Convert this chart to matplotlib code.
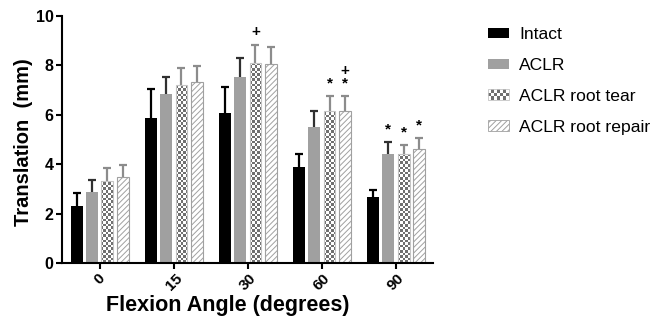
import numpy as np
import matplotlib
matplotlib.use("Agg")
import matplotlib.pyplot as plt
from matplotlib.patches import Rectangle, Patch
from matplotlib.legend_handler import HandlerBase

plt.rcParams['font.family'] = ['Liberation Sans', 'DejaVu Sans']
plt.rcParams['hatch.linewidth'] = 0.7

# Données (moyenne, écart-type)
angles = ['0', '15', '30', '60', '90']
series = ['Intact', 'ACLR', 'ACLR root tear', 'ACLR root repair']
intact_mean = [2.29, 5.86, 6.06, 3.88, 2.66]
intact_sd = [0.56, 1.19, 1.05, 0.51, 0.30]
aclr_mean = [2.87, 6.84, 7.54, 5.49, 4.41]
aclr_sd = [0.47, 0.70, 0.75, 0.67, 0.47]
tear_mean = [3.30, 7.21, 8.08, 6.14, 4.39]
tear_sd = [0.55, 0.69, 0.74, 0.60, 0.39]
repair_mean = [3.47, 7.32, 8.04, 6.16, 4.62]
repair_sd = [0.51, 0.64, 0.68, 0.58, 0.45]
# marques de significativité : (angle, série, symbole, rang)
marks = [(2, 2, '+', 0), (3, 2, '*', 0), (3, 3, '*', 0), (3, 3, '+', 1),
         (4, 1, '*', 0), (4, 2, '*', 0), (4, 3, '*', 0)]

means = [intact_mean, aclr_mean, tear_mean, repair_mean]
sds = [intact_sd, aclr_sd, tear_sd, repair_sd]

GRAY = '#a0a0a0'
CHECK = '#707070'
EDGE = '#c4c4c4'
err_colors = ['black', '#303030', '#8c8c8c', '#8c8c8c']

fig = plt.figure(figsize=(6.63, 3.29), dpi=100)
ax = fig.add_axes([0.0935, 0.2006, 0.5595, 0.7514])

x = np.arange(len(angles))
pitch = 0.207
width = 0.16
cell_x = width / 5
cell_y = 0.105

for k in range(4):
    xs = x + (k - 1.5) * pitch
    ax.errorbar(xs, means[k], yerr=sds[k], fmt='none', ecolor=err_colors[k],
                elinewidth=1.6, capsize=2.6, capthick=1.6, zorder=0.5)
    if k == 0:
        ax.bar(xs, means[k], width, color='black', zorder=1)
    elif k == 1:
        ax.bar(xs, means[k], width, color=GRAY, zorder=1)
    elif k == 2:
        bars = ax.bar(xs, means[k], width, facecolor='none', edgecolor=EDGE,
                      linewidth=0.8, zorder=1.2)
        for b in bars:
            nr = int(np.ceil(b.get_height() / cell_y)) + 1
            grid = (np.add.outer(np.arange(nr), np.arange(5)) % 2).astype(float)
            x0 = b.get_x()
            im = ax.imshow(grid, cmap=matplotlib.colors.ListedColormap(['white', CHECK]),
                           extent=(x0, x0 + 5 * cell_x, 0, nr * cell_y),
                           origin='lower', aspect='auto', interpolation='nearest',
                           zorder=1.1)
            im.set_clip_path(b)
    else:
        ax.bar(xs, means[k], width, facecolor='white', edgecolor=GRAY,
               hatch='//////', linewidth=0.8, zorder=1)

for g, s, sym, lvl in marks:
    xx = x[g] + (s - 1.5) * pitch
    yy = means[s][g] + sds[s][g]
    ax.annotate(sym, (xx, yy), xytext=(0, 4 + 9 * lvl), textcoords='offset points',
                ha='center', va='bottom', fontsize=11, fontweight='bold')

ax.set_xlim(-0.51, 4.5)
ax.set_ylim(0, 10)
ax.set_yticks([0, 2, 4, 6, 8, 10])
ax.set_xticks(x)
ax.set_xticklabels(angles, rotation=45, ha='center', fontsize=11, fontweight='bold')
for t in ax.get_yticklabels():
    t.set_fontsize(11.5)
    t.set_fontweight('bold')
ax.spines['top'].set_visible(False)
ax.spines['right'].set_visible(False)
ax.spines['left'].set_linewidth(1.5)
ax.spines['bottom'].set_linewidth(1.5)
ax.tick_params(width=1.5, length=4, pad=2)
ax.set_ylabel('Translation  (mm)', fontsize=14.5, fontweight='bold', va='center')
ax.yaxis.set_label_coords(-0.105, 0.49)
ax.set_xlabel('Flexion Angle (degrees)', fontsize=15.5, fontweight='bold', va='center')
ax.xaxis.set_label_coords(0.447, -0.17)


class CheckerHandler(HandlerBase):
    def create_artists(self, legend, orig_handle, xdescent, ydescent, width, height,
                       fontsize, trans):
        arts = []
        n, m = 7, 3
        cw, ch = width / n, height / m
        for i in range(n):
            for j in range(m):
                c = CHECK if (i + j) % 2 else 'white'
                arts.append(Rectangle((-xdescent + i * cw, -ydescent + j * ch), cw, ch,
                                      facecolor=c, edgecolor='none', transform=trans))
        arts.append(Rectangle((-xdescent, -ydescent), width, height, facecolor='none',
                              edgecolor=EDGE, linewidth=0.6, transform=trans))
        return arts


h_intact = Patch(facecolor='black')
h_aclr = Patch(facecolor=GRAY)
h_tear = Patch(facecolor='white')
h_repair = Patch(facecolor='white', edgecolor=GRAY, hatch='//////', linewidth=0.6)
fig.legend([h_intact, h_aclr, h_tear, h_repair], series, loc='upper left',
           bbox_to_anchor=(0.712, 0.965), frameon=False, fontsize=12.6,
           handlelength=1.2, handleheight=0.55, handletextpad=0.6, labelspacing=0.9,
           handler_map={h_tear: CheckerHandler()})

fig.savefig('out.png', dpi=100)
